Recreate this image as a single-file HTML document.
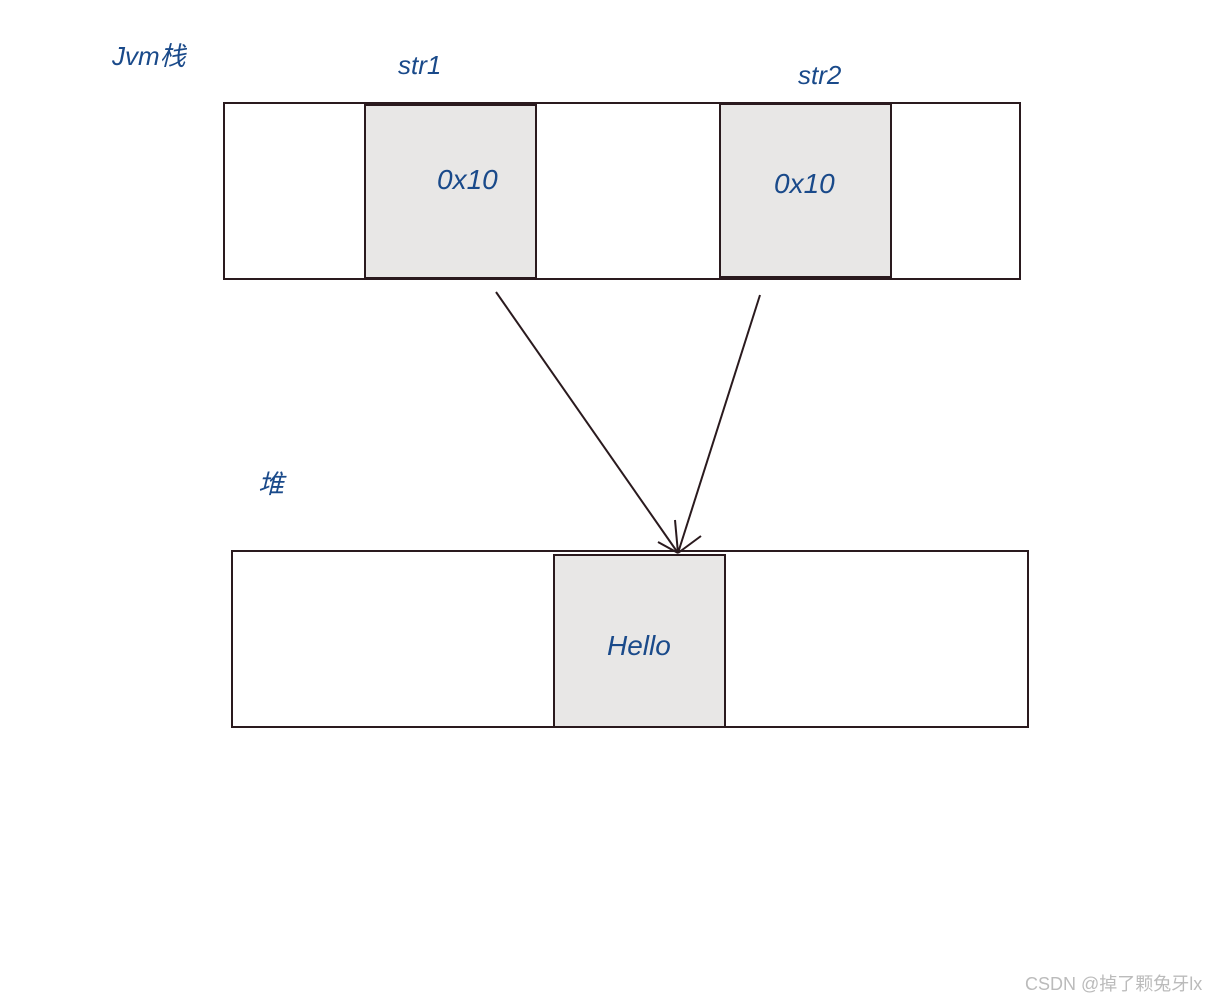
<!DOCTYPE html>
<html><head><meta charset="utf-8"><style>
html,body{margin:0;padding:0;background:#fff;}
body{width:1226px;height:1000px;position:relative;overflow:hidden;}
.t{position:absolute;color:#1a4a8a;font-family:"Comic Sans MS","Liberation Sans","Noto Sans CJK SC",sans-serif;font-style:italic;}
</style></head><body>
<svg width="1226" height="1000" style="position:absolute;left:0;top:0">
<g stroke="#2a1a1e" stroke-width="2" fill="none">
<rect x="224" y="103" width="796" height="176"/>
<rect x="365" y="105" width="171" height="173" fill="#e8e7e6"/>
<rect x="720" y="104" width="171" height="173" fill="#e8e7e6"/>
<rect x="232" y="551" width="796" height="176"/>
<rect x="554" y="555" width="171" height="172" fill="#e8e7e6"/>
<line x1="496" y1="292" x2="678" y2="553"/>
<line x1="760" y1="295" x2="678" y2="553"/>
<line x1="675" y1="520" x2="678" y2="553"/>
<line x1="658" y1="542" x2="678" y2="553"/>
<line x1="701" y1="536" x2="678" y2="553"/>
</g>
</svg>
<div class="t" style="left:112px;top:36px;font-size:26px">Jvm栈</div>
<div class="t" style="left:398px;top:50px;font-size:26px">str1</div>
<div class="t" style="left:798px;top:60px;font-size:26px">str2</div>
<div class="t" style="left:437px;top:164px;font-size:28px">0x10</div>
<div class="t" style="left:774px;top:168px;font-size:28px">0x10</div>
<div class="t" style="left:258px;top:464px;font-size:26px">堆</div>
<div class="t" style="left:607px;top:630px;font-size:28px">Hello</div>
<div style="position:absolute;left:1025px;top:970px;font-size:18px;color:#bbb;font-family:'Liberation Sans','Noto Sans CJK SC',sans-serif">CSDN @掉了颗兔牙lx</div>
</body></html>
